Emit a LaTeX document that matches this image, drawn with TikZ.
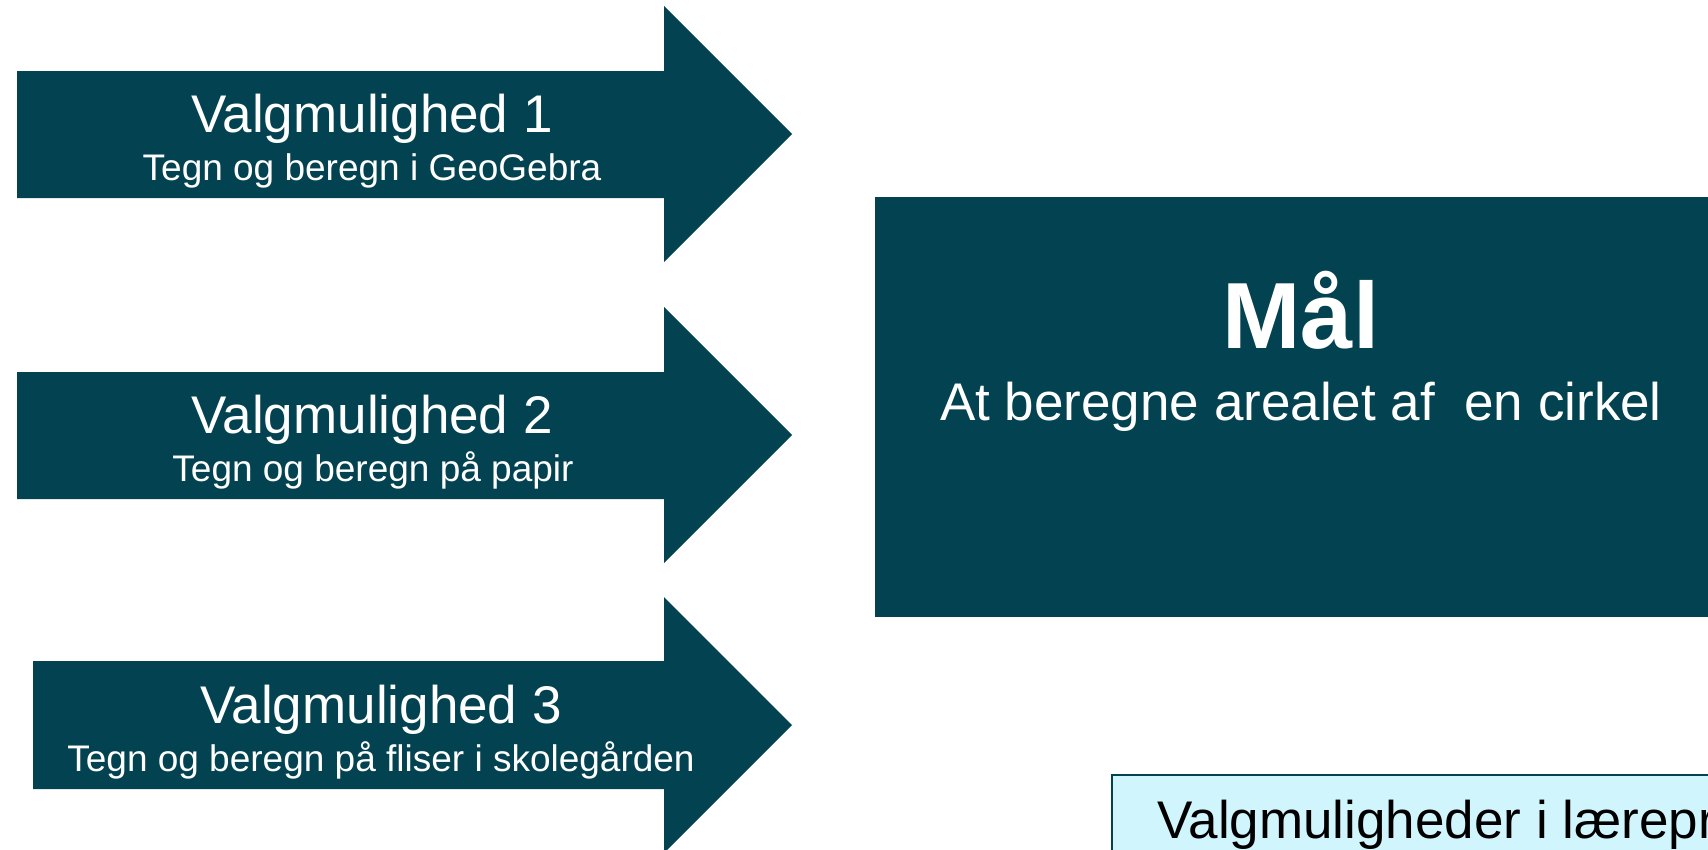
\documentclass[tikz,border=0pt]{standalone}
\usepackage{fontspec}
\setmainfont{Liberation Sans}
\usetikzlibrary{positioning}
\definecolor{petrol}{RGB}{3,67,81}
\definecolor{lightcyan}{RGB}{209,245,253}
\tikzset{
  arrowshape/.style={fill=petrol},
  goalbox/.style={fill=petrol},
  notebox/.style={fill=lightcyan, draw=petrol, line width=2pt},
  titletext/.style={text=white, font=\fontsize{53}{60}\selectfont, inner sep=0pt, anchor=base},
  subtext/.style={text=white, font=\fontsize{37}{44}\selectfont, inner sep=0pt, anchor=base},
}

\begin{document}
\begin{tikzpicture}[x=1pt, y=-1pt]
\useasboundingbox (0,0) rectangle (1708,849);
\clip (0,0) rectangle (1708,849);

% three arrows
\fill[arrowshape] (17,71) -- (664,71) -- (664,6) -- (792,134) -- (664,262) -- (664,198) -- (17,198) -- cycle;
\fill[arrowshape] (17,372) -- (664,372) -- (664,307) -- (792,435) -- (664,563) -- (664,499) -- (17,499) -- cycle;
\fill[arrowshape] (33,661) -- (664,661) -- (664,597) -- (792,725) -- (664,853) -- (664,789) -- (33,789) -- cycle;

\node[titletext] (v1) at (372,132) {Valgmulighed 1};
\node[subtext] (v1s) at (372,180) {Tegn og beregn i GeoGebra};
\node[titletext] (v2) at (372,433) {Valgmulighed 2};
\node[subtext] (v2s) at (373,481) {Tegn og beregn på papir};
\node[titletext] (v3) at (381,723) {Valgmulighed 3};
\node[subtext] (v3s) at (381,771) {Tegn og beregn på fliser i skolegården};

% goal box
\fill[goalbox] (875,197) rectangle (1760,617);
\node[titletext, font=\fontsize{94}{100}\selectfont\bfseries] (maal) at (1301,348) {Mål};
\node[titletext] (maaltxt) at (1301,420) {At beregne arealet af\ \ en cirkel};

% note box
\draw[notebox] (1112,775) rectangle (1760,900);
\node[titletext, text=black, anchor=base west] (note) at (1157,838) {Valgmuligheder i læreprocessen};
\end{tikzpicture}
\end{document}
